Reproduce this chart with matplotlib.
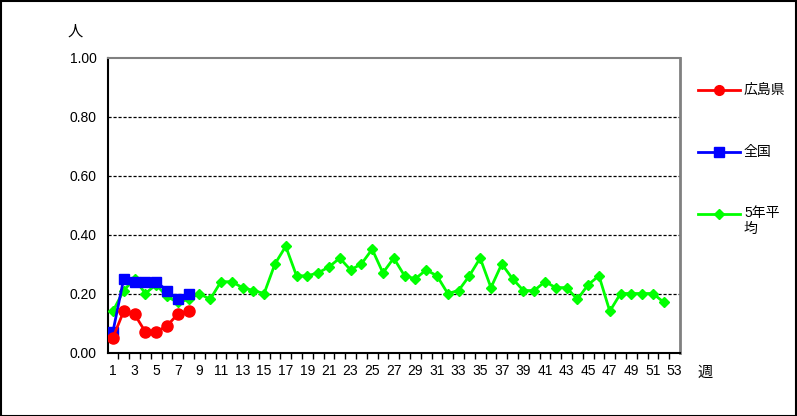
import matplotlib
matplotlib.use("Agg")
import matplotlib.pyplot as plt
from matplotlib.patches import Rectangle
from matplotlib.ticker import FixedLocator, NullFormatter
import numpy as np

plt.rcParams['font.family'] = ['Liberation Sans', 'Noto Sans CJK JP', 'DejaVu Sans']

weeks = list(range(1, 54))
week_labels = [str(w) if w % 2 == 1 else "" for w in weeks]

hiroshima = [0.05, 0.14, 0.13, 0.07, 0.07, 0.09, 0.13, 0.14]
zenkoku = [0.07, 0.25, 0.24, 0.24, 0.24, 0.21, 0.18, 0.20]
avg5 = [0.14, 0.21, 0.25, 0.20, 0.23, 0.19, 0.17, 0.18, 0.20, 0.18,
        0.24, 0.24, 0.22, 0.21, 0.20, 0.30, 0.36, 0.26, 0.26, 0.27,
        0.29, 0.32, 0.28, 0.30, 0.35, 0.27, 0.32, 0.26, 0.25, 0.28,
        0.26, 0.20, 0.21, 0.26, 0.32, 0.22, 0.30, 0.25, 0.21, 0.21,
        0.24, 0.22, 0.22, 0.18, 0.23, 0.26, 0.14, 0.20, 0.20, 0.20,
        0.20, 0.17]
series_names = ["広島県", "全国", "5年平\n均"]

W, H = 797, 416
fig = plt.figure(figsize=(W / 100, H / 100), dpi=100)
fig.patch.set_facecolor("white")

x0, x1 = 107.5, 680
y0, y1 = 352.5, 57.5
ax = fig.add_axes([x0 / W, 1 - y0 / H, (x1 - x0) / W, (y0 - y1) / H])

ax.plot(weeks[:len(avg5)], avg5, color="#00FF00", lw=2, marker="D", ms=5.5,
        label=series_names[2], zorder=3)
ax.plot(weeks[:len(zenkoku)], zenkoku, color="#0000FF", lw=2, marker="s", ms=7,
        label=series_names[1], zorder=4)
ax.plot(weeks[:len(hiroshima)], hiroshima, color="#FF0000", lw=2, marker="o", ms=8,
        label=series_names[0], zorder=5)

ax.set_xlim(0.5, 53.5)
ax.set_ylim(0, 1.0)
ax.set_yticks([0, 0.2, 0.4, 0.6, 0.8, 1.0])
ax.set_yticklabels([f"{v:.2f}" for v in [0, 0.2, 0.4, 0.6, 0.8, 1.0]], fontsize=10)
ax.set_xticks(weeks)
ax.set_xticklabels(week_labels, fontsize=10)
ax.tick_params(axis="x", which="major", length=0, pad=8)
ax.xaxis.set_minor_locator(FixedLocator(np.arange(1.5, 53.5, 1)))
ax.xaxis.set_minor_formatter(NullFormatter())
ax.tick_params(axis="x", which="minor", length=4, width=1, direction="out", color="black")
ax.tick_params(axis="y", length=4, width=1, direction="in", pad=8)
ax.tick_params(axis="y", which="major", direction="out", length=0)

for v in [0.2, 0.4, 0.6, 0.8]:
    ax.axhline(v, color="black", lw=0.9, ls=(0, (2.5, 1.5)), zorder=1)

ax.spines["left"].set_color("black")
ax.spines["left"].set_linewidth(1.5)
ax.spines["bottom"].set_color("black")
ax.spines["bottom"].set_linewidth(1.5)
ax.spines["top"].set_color("#808080")
ax.spines["top"].set_linewidth(1.5)
ax.spines["right"].set_color("#808080")
ax.spines["right"].set_linewidth(2)

fig.text(75 / W, 1 - 31 / H, "人", fontsize=11, ha="center", va="center",
         family=['Noto Sans CJK JP', 'DejaVu Sans'])
fig.text(705 / W, 1 - 372 / H, "週", fontsize=11, ha="center", va="center",
         family=['Noto Sans CJK JP', 'DejaVu Sans'])

# legend (manual, right side)
handles = {h.get_label(): h for h in ax.get_lines()}
leg_items = [(series_names[0], "#FF0000", "o", 7, 90),
             (series_names[1], "#0000FF", "s", 7, 152),
             (series_names[2], "#00FF00", "D", 5, 214)]
for name, col, mk, ms, yy in leg_items:
    fy = 1 - yy / H
    fig.add_artist(plt.Line2D([698 / W, 740 / W], [fy, fy], color=col, lw=2,
                              transform=fig.transFigure))
    fig.add_artist(plt.Line2D([719 / W], [fy], color=col, marker=mk, ms=ms,
                              transform=fig.transFigure))
    fig.text(744 / W, fy, name, fontsize=10, ha="left", va="top" if "\n" in name else "center",
             family=['Liberation Sans', 'Noto Sans CJK JP'],
             linespacing=1.15, transform=fig.transFigure) if "\n" not in name else \
        fig.text(744 / W, fy + 8 / H, name, fontsize=10, ha="left", va="top",
                 family=['Liberation Sans', 'Noto Sans CJK JP'], linespacing=1.15)

fig.add_artist(Rectangle((0.5 / W, 0.5 / H), (W - 1.5) / W, (H - 1.5) / H,
                         transform=fig.transFigure, fill=False, ec="black", lw=1.5))

fig.savefig("out.png", dpi=100, facecolor="white")
